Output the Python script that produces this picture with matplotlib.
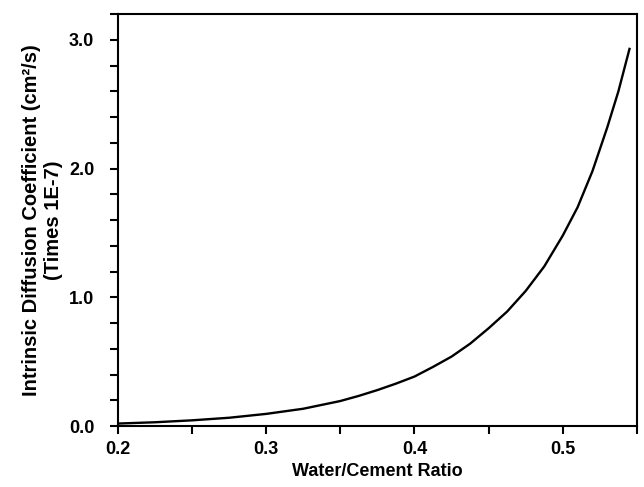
import numpy as np
import matplotlib.pyplot as plt
from matplotlib.ticker import MultipleLocator

# values
wc_ratio = [0.20, 0.225, 0.25, 0.275, 0.30, 0.3125, 0.325, 0.3375, 0.35,
            0.3625, 0.375, 0.3875, 0.40, 0.4125, 0.425, 0.4375, 0.45,
            0.4625, 0.475, 0.4875, 0.50, 0.51, 0.52, 0.53, 0.5375, 0.545]
diff_coef = [0.020, 0.030, 0.045, 0.065, 0.095, 0.115, 0.135, 0.165, 0.195,
             0.235, 0.28, 0.33, 0.385, 0.46, 0.54, 0.64, 0.76,
             0.89, 1.05, 1.24, 1.48, 1.70, 1.98, 2.32, 2.60, 2.93]

plt.rcParams['font.family'] = ['Liberation Sans', 'DejaVu Sans']

fig = plt.figure(figsize=(6.44, 4.87), dpi=100)
ax = fig.add_axes([0.183, 0.125, 0.806, 0.846])

ax.plot(wc_ratio, diff_coef, color='black', lw=1.7)

ax.set_xlim(0.2, 0.55)
ax.set_ylim(0.0, 3.2)
ax.xaxis.set_major_locator(MultipleLocator(0.1))
ax.xaxis.set_minor_locator(MultipleLocator(0.05))
ax.yaxis.set_major_locator(MultipleLocator(1.0))
ax.yaxis.set_minor_locator(MultipleLocator(0.2))
ax.xaxis.set_major_formatter(plt.FormatStrFormatter('%.1f'))
ax.yaxis.set_major_formatter(plt.FormatStrFormatter('%.1f'))

ax.tick_params(which='both', direction='out', length=6, width=1.5, colors='black')
ax.tick_params(axis='x', pad=5, labelsize=13)
ax.tick_params(axis='y', pad=11, labelsize=13)
for lab in ax.get_xticklabels() + ax.get_yticklabels():
    lab.set_fontweight('bold')
for s in ax.spines.values():
    s.set_linewidth(1.5)

ax.set_xlabel('Water/Cement Ratio', fontsize=13, fontweight='bold', labelpad=3)
ax.set_ylabel('Intrinsic Diffusion Coefficient (cm²/s)\n(Times 1E-7)',
              fontsize=14.5, fontweight='bold', linespacing=1.2)
ax.yaxis.set_label_coords(-0.106, 0.5)

fig.savefig('out.png', dpi=100)
